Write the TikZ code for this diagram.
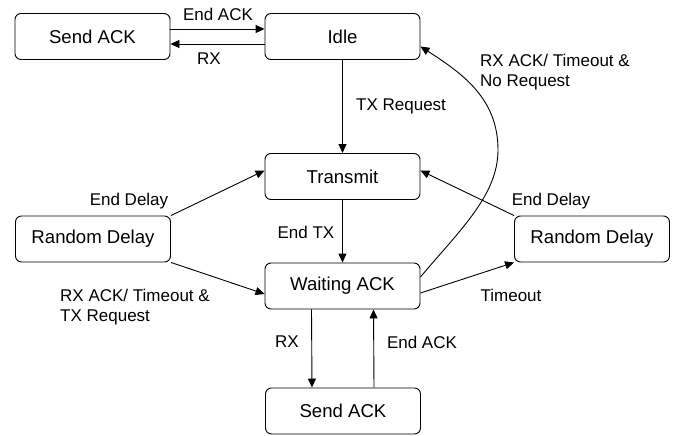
\documentclass[tikz,border=0pt]{standalone}
\usepackage{fontspec}
\setmainfont{Liberation Sans}
\usetikzlibrary{arrows.meta}
\begin{document}
\begin{tikzpicture}[x=1pt,y=-1pt,
  state/.style={draw,rounded corners=6pt,line width=0.9pt,minimum width=155pt,minimum height=46pt,inner sep=0pt,font=\fontsize{18.6}{22}\selectfont},
  conn/.style={line width=0.9pt,-{Triangle[length=9pt,width=8pt]}},
  lbl/.style={font=\fontsize{17}{20}\selectfont,inner sep=0pt}]
\useasboundingbox (0,0) rectangle (678,436);
\node[state] (sa1) at (92.5,36.5) {Send ACK};
\node[state] (idle) at (342.5,36.5) {Idle};
\node[state] (trans) at (342.5,176.5) {Transmit};
\node[state] (wait) at (342.5,286) {Waiting ACK};
\node[state] (rdl) at (93,239) {Random Delay};
\node[state] (rdr) at (592,239) {Random Delay};
\node[state] (sa2) at (343,411) {Send ACK};

\draw[conn] ([yshift=7.5pt]sa1.east) -- ([yshift=7.5pt]idle.west);
\draw[conn] ([yshift=-7.5pt]idle.west) -- ([yshift=-7.5pt]sa1.east);
\draw[conn] (idle) -- (trans);
\draw[conn] (trans) -- (wait);
\draw[conn] ([xshift=-31pt]wait.south) -- ([xshift=-31pt]sa2.north);
\draw[conn] ([xshift=31pt]sa2.north) -- ([xshift=31pt]wait.south);
\draw[conn] (rdl.north east) -- ([yshift=6pt]trans.west);
\draw[conn] (rdl.south east) -- ([yshift=-8pt]wait.west);
\draw[conn] (rdr.north west) -- ([yshift=6pt]trans.east);
\draw[conn] ([yshift=-7pt]wait.east) -- (rdr.south west);
\draw[conn] ([yshift=9pt]wait.east) .. controls (460,230) and (498,195) .. (498,150)
   .. controls (498,100) and (465,75) .. ([yshift=-10pt]idle.east);

\node[lbl] (l1) at (218,14) {End ACK};
\node[lbl] (l2) at (209,59) {RX};
\node[lbl,anchor=west] (l3) at (356,106) {TX Request};
\node[lbl] (l4) at (306,232) {End TX};
\node[lbl] (l5) at (551,201) {End Delay};
\node[lbl] (l6) at (511,295) {Timeout};
\node[lbl] (l7) at (129,201) {End Delay};
\node[lbl,anchor=west,align=left] (l8) at (60,307) {RX ACK/ Timeout \&\\TX Request};
\node[lbl] (l9) at (287,342) {RX};
\node[lbl] (l10) at (422,342) {End ACK};
\node[lbl,anchor=west,align=left] (l11) at (480,72) {RX ACK/ Timeout \&\\No Request};
\end{tikzpicture}
\end{document}
